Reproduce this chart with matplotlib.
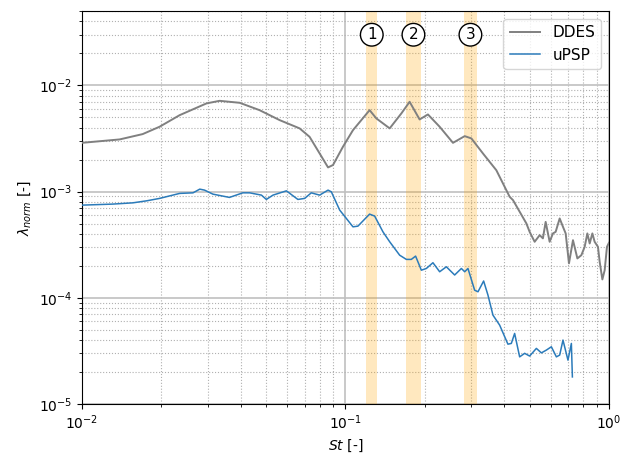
import matplotlib
matplotlib.use("Agg")
import matplotlib.pyplot as plt

# DDES spectrum
st_ddes = [0.0100, 0.0139, 0.0170, 0.0197, 0.0235, 0.0297, 0.0333, 0.0397, 0.0472, 0.0563,
           0.0670, 0.0731, 0.0798, 0.0859, 0.0897, 0.0978, 0.1068, 0.1235, 0.1310, 0.1472,
           0.1630, 0.1752, 0.1912, 0.2056, 0.2278, 0.2559, 0.2835, 0.3005, 0.3324, 0.3738,
           0.4200, 0.4323, 0.4859, 0.5000, 0.5224, 0.5458, 0.5615, 0.5751, 0.5955, 0.6130,
           0.6276, 0.6501, 0.6691, 0.6850, 0.7051, 0.7302, 0.7588, 0.7857, 0.8087, 0.8279,
           0.8449, 0.8650, 0.8824, 0.9084, 0.9221, 0.9440, 0.9632, 0.9827, 1.0000]
lam_ddes = [2.88e-3, 3.10e-3, 3.48e-3, 4.08e-3, 5.25e-3, 6.77e-3, 7.16e-3, 6.86e-3, 5.85e-3, 4.71e-3,
            3.94e-3, 3.28e-3, 2.29e-3, 1.69e-3, 1.78e-3, 2.64e-3, 3.79e-3, 5.85e-3, 4.89e-3, 3.94e-3,
            5.45e-3, 7.01e-3, 4.78e-3, 5.33e-3, 4.08e-3, 2.88e-3, 3.33e-3, 3.17e-3, 2.29e-3, 1.59e-3,
            8.93e-4, 8.32e-4, 5.02e-4, 4.18e-4, 3.37e-4, 3.89e-4, 3.63e-4, 5.19e-4, 3.37e-4, 4.04e-4,
            4.18e-4, 5.59e-4, 4.66e-4, 4.04e-4, 2.11e-4, 3.49e-4, 2.35e-4, 2.52e-4, 3.02e-4, 4.04e-4,
            3.25e-4, 4.04e-4, 3.37e-4, 3.02e-4, 2.18e-4, 1.49e-4, 1.82e-4, 3.02e-4, 3.30e-4]

# uPSP spectrum
st_upsp = [0.0100, 0.0131, 0.0156, 0.0176, 0.0197, 0.0235, 0.0264, 0.0280, 0.0292, 0.0314,
           0.0363, 0.0408, 0.0433, 0.0480, 0.0501, 0.0531, 0.0597, 0.0660, 0.0700, 0.0742,
           0.0798, 0.0859, 0.0884, 0.0951, 0.1008, 0.1068, 0.1115, 0.1235, 0.1291, 0.1388,
           0.1472, 0.1606, 0.1703, 0.1778, 0.1846, 0.1941, 0.2028, 0.2148, 0.2278, 0.2415,
           0.2597, 0.2754, 0.2835, 0.2917, 0.3092, 0.3184, 0.3345, 0.3474, 0.3629, 0.3848,
           0.4136, 0.4261, 0.4386, 0.4582, 0.4787, 0.5000, 0.5303, 0.5540, 0.5787, 0.6045,
           0.6316, 0.6501, 0.6691, 0.6989, 0.7200, 0.7264]
lam_upsp = [7.46e-4, 7.63e-4, 7.84e-4, 8.19e-4, 8.63e-4, 9.62e-4, 9.74e-4, 1.055e-3, 1.033e-3, 9.47e-4,
            8.82e-4, 9.74e-4, 9.74e-4, 9.27e-4, 8.44e-4, 9.27e-4, 1.017e-3, 8.44e-4, 8.63e-4, 9.74e-4,
            9.27e-4, 1.033e-3, 9.96e-4, 6.70e-4, 5.59e-4, 4.66e-4, 4.73e-4, 6.14e-4, 5.88e-4, 4.18e-4,
            3.37e-4, 2.52e-4, 2.30e-4, 2.30e-4, 2.47e-4, 1.82e-4, 1.89e-4, 2.14e-4, 1.76e-4, 1.96e-4,
            1.64e-4, 1.89e-4, 1.76e-4, 1.89e-4, 1.18e-4, 1.14e-4, 1.44e-4, 1.06e-4, 6.87e-5, 5.53e-5,
            3.66e-5, 3.72e-5, 4.62e-5, 2.78e-5, 3.00e-5, 2.83e-5, 3.34e-5, 3.03e-5, 3.22e-5, 3.46e-5,
            2.78e-5, 2.89e-5, 4.00e-5, 2.59e-5, 3.72e-5, 1.80e-5]

# highlighted Strouhal bands
bands = [(0.120, 0.132), (0.170, 0.193), (0.282, 0.315)]
band_labels = ['1', '2', '3']

fig = plt.figure(figsize=(6.35, 4.66), dpi=100)
ax = fig.add_axes([0.129, 0.133, 0.830, 0.843])

for (lo, hi), lab in zip(bands, band_labels):
    ax.axvspan(lo, hi, color='orange', alpha=0.25, lw=0, zorder=1)
    ax.text((lo * hi) ** 0.5, 0.030, lab, ha='center', va='center', fontsize=11,
            bbox=dict(boxstyle='circle,pad=0.25', fc='white', ec='black', lw=1.0), zorder=5)

ax.plot(st_ddes, lam_ddes, color='gray', lw=1.4, label='DDES', zorder=3)
ax.plot(st_upsp, lam_upsp, color='#2b7bba', lw=1.1, label='uPSP', zorder=3)

ax.set_xscale('log')
ax.set_yscale('log')
ax.set_xlim(1e-2, 1e0)
ax.set_ylim(1e-5, 0.05)

ax.grid(which='major', color='#c0c0c0', lw=1.2, ls='-', zorder=0)
ax.grid(which='minor', color='#b0b0b0', lw=0.8, ls=':', zorder=0)
ax.set_axisbelow(True)

ax.set_xlabel(r'$St$ [-]')
ax.set_ylabel(r'$\lambda_{norm}$ [-]')
ax.legend(loc='upper right', fontsize=11)

fig.savefig('out.png', dpi=100)
